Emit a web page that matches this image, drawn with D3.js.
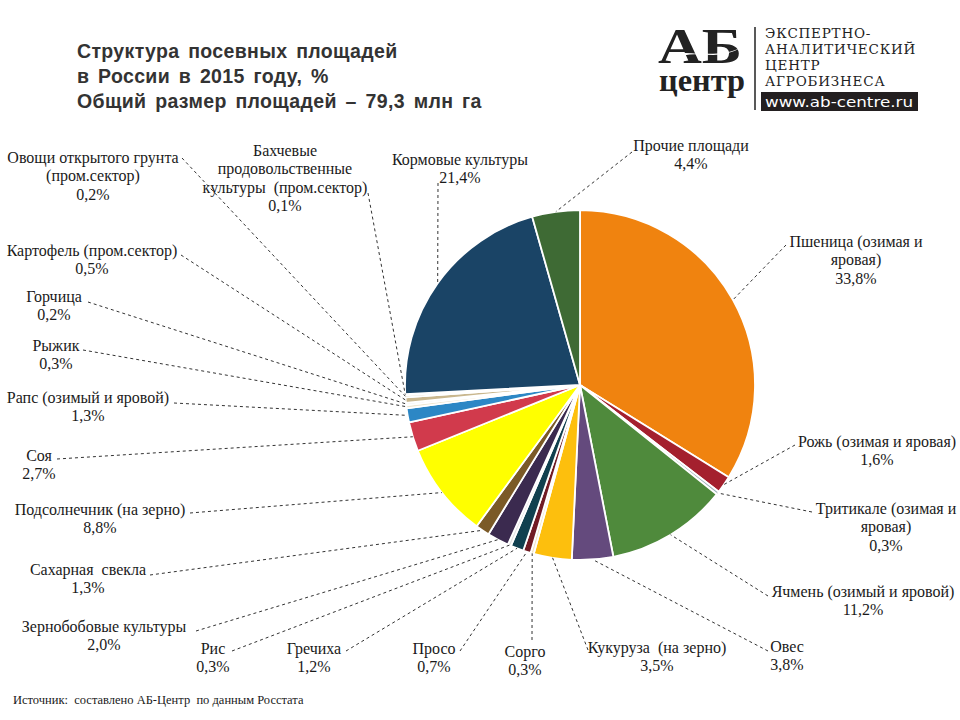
<!DOCTYPE html>
<html><head><meta charset="utf-8">
<script src="https://cdn.jsdelivr.net/npm/d3@7"></script>
<style>
body{margin:0;background:#fff;}
svg{display:block;}
text{white-space:pre;}
.serif{font-family:"Liberation Serif","Times New Roman",serif;}
</style>
</head><body>
<div id="chart"></div>
<script>
// ---- data ----
const titleLines = ["Структура посевных площадей", "в России в 2015 году, %", "Общий размер площадей – 79,3 млн га"];
const categories = [
  "Пшеница (озимая и\nяровая)",
  "Рожь (озимая и яровая)",
  "Тритикале (озимая и\nяровая)",
  "Ячмень (озимый и яровой)",
  "Овес",
  "Кукуруза  (на зерно)",
  "Сорго",
  "Просо",
  "Гречиха",
  "Рис",
  "Зернобобовые культуры",
  "Сахарная  свекла",
  "Подсолнечник (на зерно)",
  "Соя",
  "Рапс (озимый и яровой)",
  "Рыжик",
  "Горчица",
  "Картофель (пром.сектор)",
  "Овощи открытого грунта\n(пром.сектор)",
  "Бахчевые\nпродовольственные\nкультуры  (пром.сектор)",
  "Кормовые культуры",
  "Прочие площади"
];
const values = [33.8, 1.6, 0.3, 11.2, 3.8, 3.5, 0.3, 0.7, 1.2, 0.3, 2.0, 1.3, 8.8, 2.7, 1.3, 0.3, 0.2, 0.5, 0.2, 0.1, 21.4, 4.4];
const sourceText = "Источник:  составлено АБ-Центр  по данным Росстата";
const logoLines = ["ЭКСПЕРТНО-", "АНАЛИТИЧЕСКИЙ", "ЦЕНТР", "АГРОБИЗНЕСА"];
const logoUrl = "www.ab-centre.ru";

// ---- styles / layout ----
const colors = ["#f0830f", "#a4202e", "#9fb4bc", "#4f8a3c", "#644a7d", "#fdbf0d", "#f3e4c4", "#711b24", "#10404f", "#e4e4e4",
  "#3b2a4f", "#7b5a27", "#ffff00", "#d13a4c", "#2c87c5", "#efe6d1", "#ececec", "#c9b78e", "#e6d8b8", "#f2f2f2", "#1a4466", "#3e6a34"];
// [text centre x, first baseline y, leader start x, leader start y]
const labelLayout = [
  [856, 247, 786, 245],
  [877, 447, 795, 445],
  [886, 514, 812, 512],
  [863, 597, 768, 596],
  [787, 652, 768, 651],
  [657, 653, 588, 650],
  [525, 657, 532, 640],
  [434, 654, 460, 651],
  [314, 654, 346, 651],
  [213, 654, 232, 651],
  [104, 632, 196, 631],
  [88, 575, 150, 575],
  [100, 515, 190, 513],
  [39, 461, 57, 459],
  [88, 403, 174, 403],
  [56, 351, 83, 350],
  [54, 302, 88, 302],
  [92, 256, 181, 255],
  [93, 163, 182, 158],
  [285, 156, 368, 193],
  [460, 165, 438, 183],
  [691, 151, 632, 152]
];
const W = 960, H = 720, cx = 580, cy = 385, R = 175;
const lineH = 18.3;

const svg = d3.select("#chart").append("svg").attr("width", W).attr("height", H);

// title
svg.append("g").selectAll("text").data(titleLines).join("text")
  .attr("x", 77).attr("y", (d, i) => 58 + i * 25)
  .style("font-family", "'Liberation Sans', Arial, sans-serif")
  .attr("font-weight", "bold").attr("font-size", 19.5).attr("fill", "#333")
  .attr("letter-spacing", 0.35).attr("word-spacing", 3)
  .text(d => d);

// logo
const logo = svg.append("g");
const mark = logo.append("text").attr("class", "serif").attr("font-weight", "bold").attr("fill", "#222");
mark.append("tspan").attr("x", 658).attr("y", 63).attr("font-size", 50)
  .attr("textLength", 84).attr("lengthAdjust", "spacingAndGlyphs").text("АБ");
mark.append("tspan").attr("x", 659).attr("y", 91).attr("font-size", 32)
  .attr("textLength", 86).attr("lengthAdjust", "spacingAndGlyphs").text("центр");
logo.append("path").attr("d", "M668,57 C690,45 712,65 742,47 C720,59 700,49 668,59 Z").attr("fill", "#fff");
logo.append("line").attr("x1", 755).attr("x2", 755).attr("y1", 27).attr("y2", 110).attr("stroke", "#222").attr("stroke-width", 1.5);
logo.selectAll("text.ll").data(logoLines).join("text").attr("class", "ll")
  .attr("x", 765).attr("y", (d, i) => 38 + i * 16)
  .style("font-family", "'DejaVu Serif', serif").attr("font-size", 13.5).attr("fill", "#222")
  .attr("letter-spacing", 0.8).text(d => d);
logo.append("rect").attr("x", 761).attr("y", 92).attr("width", 157).attr("height", 19).attr("fill", "#231f20");
logo.append("text").attr("x", 839).attr("y", 107).attr("text-anchor", "middle")
  .style("font-family", "'DejaVu Sans', sans-serif").attr("font-size", 14).attr("fill", "#fff")
  .attr("textLength", 148).attr("lengthAdjust", "spacingAndGlyphs").text(logoUrl);

// pie
const rows = categories.map((c, i) => ({ name: c, value: values[i], color: colors[i], layout: labelLayout[i] }));
const pie = d3.pie().value(d => d.value).sort(null).startAngle(0).endAngle(2 * Math.PI);
const arcs = pie(rows);
const arc = d3.arc().innerRadius(0).outerRadius(R);
const edgeArc = d3.arc().innerRadius(R).outerRadius(R);

const g = svg.append("g").attr("transform", `translate(${cx},${cy})`);
g.selectAll("path").data(arcs).join("path")
  .attr("d", arc).attr("fill", d => d.data.color)
  .attr("stroke", "#fff").attr("stroke-width", 1.8).attr("stroke-linejoin", "round");

// leaders
svg.append("g").selectAll("path").data(arcs).join("path")
  .attr("d", d => {
    const [ex, ey] = edgeArc.centroid(d);
    const L = d.data.layout;
    return d3.line()([[L[2], L[3]], [cx + ex, cy + ey]]);
  })
  .attr("fill", "none").attr("stroke", "#333").attr("stroke-width", 1).attr("stroke-dasharray", "3,3");

// labels
const fmt = v => d3.format(".1f")(v).replace(".", ",") + "%";
const lab = svg.append("g").attr("class", "serif")
  .attr("font-size", 16).attr("fill", "#1a1a1a").attr("text-anchor", "middle");
rows.forEach(r => {
  const lines = r.name.split("\n").concat([fmt(r.value)]);
  const t = lab.append("text").attr("x", r.layout[0]).attr("y", r.layout[1]);
  lines.forEach((ln, i) => t.append("tspan").attr("x", r.layout[0]).attr("dy", i === 0 ? 0 : lineH).text(ln));
});

// source
svg.append("text").attr("class", "serif").attr("x", 13).attr("y", 704)
  .attr("font-size", 12.5).attr("fill", "#1a1a1a")
  .text(sourceText);
</script>
</body></html>
